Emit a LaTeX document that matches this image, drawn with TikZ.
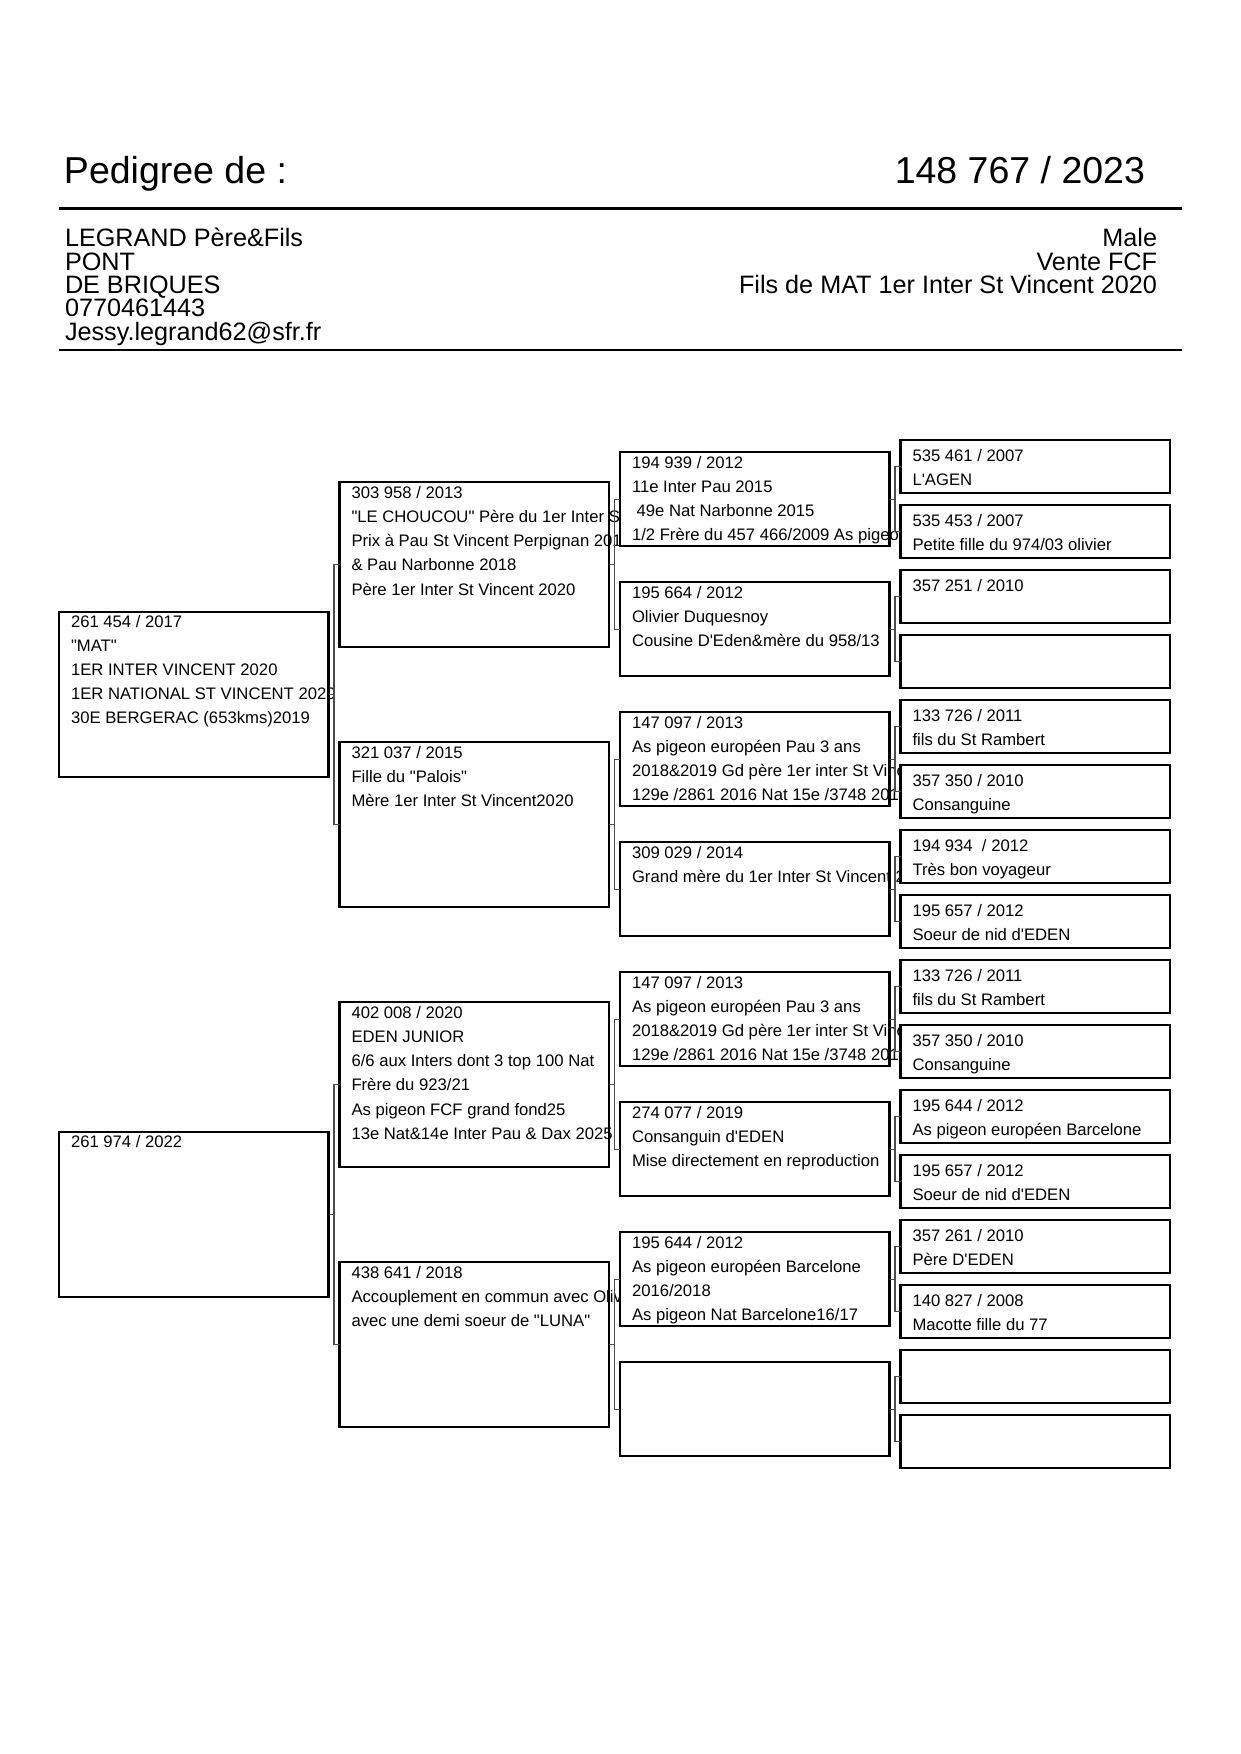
\documentclass[tikz,border=0pt]{standalone}
\usepackage{fontspec}
\newfontfamily\af{Liberation Sans}
\newcommand\stackln[2]{\vtop{\baselineskip=#1\lineskiplimit=-\maxdimen\lineskip=0pt\relax #2}}
\newcommand\Ln[1]{\hbox{#1}}
\newcommand\Rn[1]{\hbox to 0pt{\hss #1}}
\tikzset{
  pbox/.style={draw, line width=1pt, anchor=north west, inner sep=0pt, outer sep=0pt, minimum width=129.36pt},
  ptext/.style={anchor=base west, inner sep=0pt, outer sep=0pt, font=\af\fontsize{8}{9.6}\selectfont},
  conn/.style={line width=0.6pt, black!70},
  hd/.style={inner sep=0pt, outer sep=0pt, font=\af\fontsize{18}{20}\selectfont},
  own/.style={inner sep=0pt, outer sep=0pt, font=\af\fontsize{12.1}{13}\selectfont},
  rule/.style={line width=1.2pt}
}
% name, x, top, height, baseline offset, lines
\newcommand\pedbox[6]{%
  \node[pbox, minimum height={#4*0.48pt}] (#1) at (#2,#3) {};
  \begin{scope}
    \clip (#2,#3) rectangle ++(279,#4);
    \node[ptext] (#1t) at (#2+12,#3+#5) {\stackln{11.6pt}{#6}};
  \end{scope}}
\begin{document}
\begin{tikzpicture}[x=0.48pt, y=-0.48pt]
\fill[white] (0,0) rectangle (1241,1754);
\useasboundingbox (0,0) rectangle (1241,1754);

% header
\node[hd, anchor=base west] (title) at (64,183.5) {Pedigree de :};
\node[hd, anchor=base east] (ring) at (1145,183.5) {148 767 / 2023};
\draw[rule] (59,208.5) -- (1182,208.5);
\node[own, anchor=base west] (owner) at (65,246.7) {\stackln{11.2pt}{\Ln{LEGRAND Père\&Fils}\Ln{PONT}\Ln{DE BRIQUES}\Ln{0770461443}\Ln{Jessy.legrand62@sfr.fr}}};
\node[own, anchor=base west] (info) at (1156,246.7) {\stackln{11.2pt}{\Rn{Male}\Rn{Vente FCF}\Rn{Fils de MAT 1er Inter St Vincent 2020}}};
\draw[rule] (59,350) -- (1182,350);

% generation 1
\pedbox{ga}{59}{611.7}{165}{15.5}{\Ln{261 454 / 2017}\Ln{"MAT"}\Ln{1ER INTER VINCENT 2020}\Ln{1ER NATIONAL ST VINCENT 2020}\Ln{30E BERGERAC (653kms)2019}}
\pedbox{gb}{59}{1131.7}{165}{15.5}{\Ln{261 974 / 2022}}

% generation 2
\pedbox{pa}{339.5}{481.7}{165}{16.7}{\Ln{303 958 / 2013}\Ln{"LE CHOUCOU" Père du 1er Inter St Vincent}\Ln{Prix à Pau St Vincent Perpignan 2019}\Ln{\& Pau Narbonne 2018}\Ln{Père 1er Inter St Vincent 2020}}
\pedbox{pb}{339.5}{741.7}{165}{16.7}{\Ln{321 037 / 2015}\Ln{Fille du "Palois"}\Ln{Mère 1er Inter St Vincent2020}}
\pedbox{pc}{339.5}{1001.7}{165}{16.7}{\Ln{402 008 / 2020}\Ln{EDEN JUNIOR}\Ln{6/6 aux Inters dont 3 top 100 Nat}\Ln{Frère du 923/21}\Ln{As pigeon FCF grand fond25}\Ln{13e Nat\&14e Inter Pau \& Dax 2025}}
\pedbox{pd}{339.5}{1261.7}{165}{16.7}{\Ln{438 641 / 2018}\Ln{Accouplement en commun avec Olivier}\Ln{avec une demi soeur de "LUNA"}}

% generation 3
\pedbox{qa}{620}{452.3}{94}{16}{\Ln{194 939 / 2012}\Ln{11e Inter Pau 2015}\Ln{\ 49e Nat Narbonne 2015}\Ln{1/2 Frère du 457 466/2009 As pigeon}}
\pedbox{qb}{620}{582.3}{94}{16}{\Ln{195 664 / 2012}\Ln{Olivier Duquesnoy}\Ln{Cousine D'Eden\&mère du 958/13}}
\pedbox{qc}{620}{712.3}{94}{16}{\Ln{147 097 / 2013}\Ln{As pigeon européen Pau 3 ans}\Ln{2018\&2019 Gd père 1er inter St Vincent}\Ln{129e /2861 2016 Nat 15e /3748 2017}}
\pedbox{qd}{620}{842.3}{94}{16}{\Ln{309 029 / 2014}\Ln{Grand mère du 1er Inter St Vincent 2020}}
\pedbox{qe}{620}{972.3}{94}{16}{\Ln{147 097 / 2013}\Ln{As pigeon européen Pau 3 ans}\Ln{2018\&2019 Gd père 1er inter St Vincent}\Ln{129e /2861 2016 Nat 15e /3748 2017}}
\pedbox{qf}{620}{1102.3}{94}{16}{\Ln{274 077 / 2019}\Ln{Consanguin d'EDEN}\Ln{Mise directement en reproduction}}
\pedbox{qg}{620}{1232.3}{94}{16}{\Ln{195 644 / 2012}\Ln{As pigeon européen Barcelone}\Ln{2016/2018}\Ln{As pigeon Nat Barcelone16/17}}
\pedbox{qh}{620}{1362.3}{94}{16}{}

% generation 4
\pedbox{ra}{900.5}{440}{53}{21.5}{\Ln{535 461 / 2007}\Ln{L'AGEN}}
\pedbox{rb}{900.5}{505}{53}{21.5}{\Ln{535 453 / 2007}\Ln{Petite fille du 974/03 olivier}}
\pedbox{rc}{900.5}{570}{53}{21.5}{\Ln{357 251 / 2010}}
\pedbox{rd}{900.5}{635}{53}{21.5}{}
\pedbox{re}{900.5}{700}{53}{21.5}{\Ln{133 726 / 2011}\Ln{fils du St Rambert}}
\pedbox{rf}{900.5}{765}{53}{21.5}{\Ln{357 350 / 2010}\Ln{Consanguine}}
\pedbox{rg}{900.5}{830}{53}{21.5}{\Ln{194 934 \ / 2012}\Ln{Très bon voyageur}}
\pedbox{rh}{900.5}{895}{53}{21.5}{\Ln{195 657 / 2012}\Ln{Soeur de nid d'EDEN}}
\pedbox{ri}{900.5}{960}{53}{21.5}{\Ln{133 726 / 2011}\Ln{fils du St Rambert}}
\pedbox{rj}{900.5}{1025}{53}{21.5}{\Ln{357 350 / 2010}\Ln{Consanguine}}
\pedbox{rk}{900.5}{1090}{53}{21.5}{\Ln{195 644 / 2012}\Ln{As pigeon européen Barcelone}}
\pedbox{rl}{900.5}{1155}{53}{21.5}{\Ln{195 657 / 2012}\Ln{Soeur de nid d'EDEN}}
\pedbox{rm}{900.5}{1220}{53}{21.5}{\Ln{357 261 / 2010}\Ln{Père D'EDEN}}
\pedbox{rn}{900.5}{1285}{53}{21.5}{\Ln{140 827 / 2008}\Ln{Macotte fille du 77}}
\pedbox{ro}{900.5}{1350}{53}{21.5}{}
\pedbox{rp}{900.5}{1415}{53}{21.5}{}

% connectors
\foreach \p/\a/\b in {ga/pa/pb, gb/pc/pd,
  pa/qa/qb, pb/qc/qd, pc/qe/qf, pd/qg/qh,
  qa/ra/rb, qb/rc/rd, qc/re/rf, qd/rg/rh, qe/ri/rj, qf/rk/rl, qg/rm/rn, qh/ro/rp}{
  \draw[conn] (\p.east) -- ++(5.5,0) |- (\a.west);
  \draw[conn] (\p.east) -- ++(5.5,0) |- (\b.west);
}
\end{tikzpicture}
\end{document}
